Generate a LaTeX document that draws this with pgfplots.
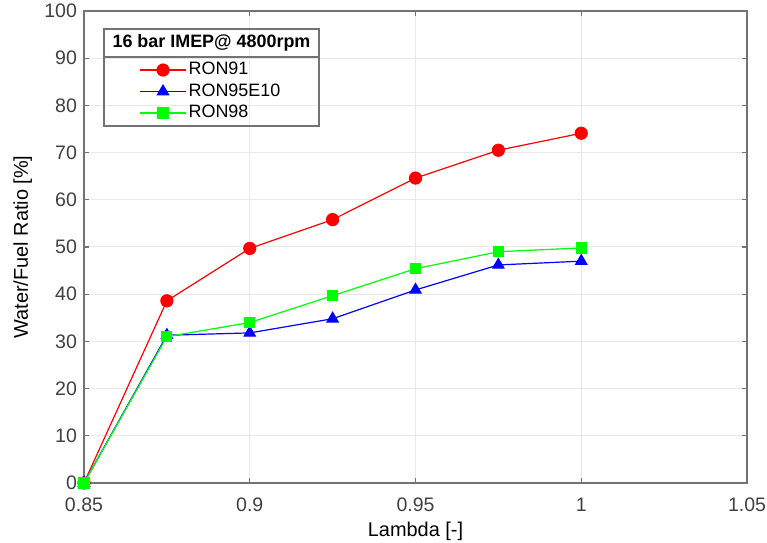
\documentclass[border=0pt]{standalone}
\usepackage{pgfplots}
\pgfplotsset{compat=1.18}
\usepackage{fontspec}
\setmainfont{Liberation Sans}
\definecolor{axgray}{gray}{0.45}
\definecolor{txtgray}{gray}{0.25}
\begin{document}
\begin{tikzpicture}
\useasboundingbox (-42bp,-30bp) rectangle (341.5bp,241.5bp);
\begin{axis}[
  at={(0,0)}, anchor=south west,
  scale only axis, width=331.5bp, height=236bp,
  xmin=0.85, xmax=1.05, ymin=0, ymax=100,
  xtick={0.85,0.9,0.95,1,1.05},
  xticklabels={0.85,0.9,0.95,1,1.05},
  ytick={0,10,...,100},
  /pgf/number format/assume math mode=true,
  tick label style={font=\fontsize{9.8}{12}\selectfont, text=txtgray},
  xticklabel style={yshift=-4bp},
  label style={font=\fontsize{10.3}{12}\selectfont, text=txtgray},
  xlabel={Lambda [-]}, ylabel={Water/Fuel Ratio [\%]},
  every axis x label/.style={at={(axis description cs:0.5,-0.103)},anchor=center},
  every axis y label/.style={at={(axis description cs:-0.0925,0.5)},anchor=center,rotate=90},
  grid=major, major grid style={gray!18, line width=0.5bp},
  axis line style={axgray, line width=0.6bp},
  tick style={axgray, line width=0.6bp},
  major tick length=2.5bp,
  tick align=inside,
  legend cell align=left,
  legend style={draw=none, fill=none, inner sep=0pt,
    at={(rel axis cs:0.083,0.898)}, anchor=north west,
    font=\fontsize{9}{10}\selectfont, row sep=0.25bp,
    nodes={inner sep=1bp, text height=6.5bp, text depth=2bp}},
  legend image code/.code={\draw[mark repeat=2,mark phase=2,#1] plot coordinates {(0bp,0bp) (11.5bp,0bp) (23bp,0bp)};},
  every axis plot/.append style={line width=0.6bp},
]
\addplot[red, mark=*, mark size=3bp, mark options={fill=red}] coordinates {
(0.85,0) (0.875,38.6) (0.9,49.7) (0.925,55.8) (0.95,64.6) (0.975,70.5) (1.0,74.1)};
\addlegendentry{RON91}
\addplot[blue, mark=triangle*, mark size=3.2bp, mark options={fill=blue}] coordinates {
(0.85,0) (0.875,31.3) (0.9,31.8) (0.925,34.8) (0.95,40.9) (0.975,46.2) (1.0,47.0)};
\addlegendentry{RON95E10}
\addplot[green, mark=square*, mark size=2.5bp, mark options={fill=green}] coordinates {
(0.85,0) (0.875,31.0) (0.9,34.0) (0.925,39.7) (0.95,45.4) (0.975,49.0) (1.0,49.8)};
\addlegendentry{RON98}
\draw[axgray, line width=0.6bp, fill=none] (rel axis cs:0.0302,0.9619) rectangle (rel axis cs:0.3544,0.7564);
\draw[axgray, line width=0.6bp] (rel axis cs:0.0302,0.9025) -- (rel axis cs:0.3544,0.9025);
\node[font=\bfseries\fontsize{9}{10}\selectfont, text=black] at (rel axis cs:0.1923,0.9322) {16 bar IMEP@ 4800rpm};
\end{axis}
\end{tikzpicture}
\end{document}
